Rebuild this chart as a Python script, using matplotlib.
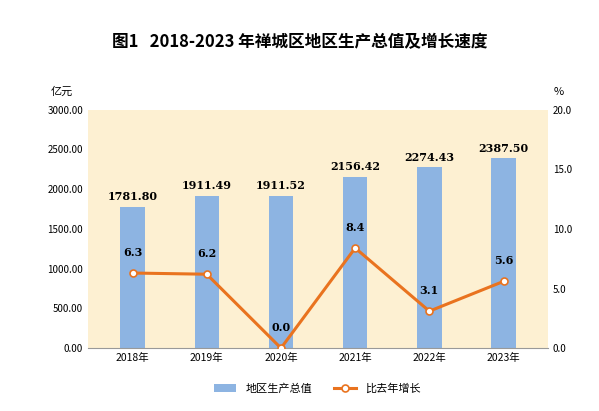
import matplotlib
matplotlib.use("Agg")
import matplotlib.pyplot as plt
plt.rcParams['font.family'] = ['Noto Sans CJK SC', 'DejaVu Sans']

years = ['2018年', '2019年', '2020年', '2021年', '2022年', '2023年']
gdp = [1781.80, 1911.49, 1911.52, 2156.42, 2274.43, 2387.50]
growth = [6.3, 6.2, 0.0, 8.4, 3.1, 5.6]

fig = plt.figure(figsize=(5.99, 4.11), dpi=100)
ax = fig.add_axes([0.147, 0.153, 0.768, 0.58])
ax.set_facecolor('#FDF0D2')
x = range(len(years))
ax.bar(x, gdp, width=0.33, color='#8DB4E2', label='地区生产总值', zorder=2)
for i, v in enumerate(gdp):
    ax.text(i, v + 60, f'{v:.2f}', ha='center', va='bottom', fontsize=8, fontweight='bold', family='DejaVu Serif')
ax.set_ylim(0, 3000)
ax.set_yticks(range(0, 3001, 500))
ax.set_yticklabels([f'{v:.2f}' for v in range(0, 3001, 500)], fontsize=7)
ax.set_xlim(-0.6, 5.6)
ax.set_xticks(list(x))
ax.set_xticklabels(years, fontsize=7.5)
for s in ['top', 'right', 'left']:
    ax.spines[s].set_visible(False)
ax.spines['bottom'].set_color('#999999')
ax.tick_params(length=0)

ax2 = ax.twinx()
ax2.plot(x, growth, color='#E9731F', lw=2.2, marker='o', ms=5, mfc='white', mec='#E9731F', mew=1.2, label='比去年增长', zorder=3)
for i, v in enumerate(growth):
    ax2.text(i, v + 1.3, f'{v:.1f}', ha='center', va='bottom', fontsize=8, fontweight='bold', family='DejaVu Serif')
ax2.set_ylim(0, 20)
ax2.set_yticks(range(0, 21, 5))
ax2.set_yticklabels([f'{v:.1f}' for v in range(0, 21, 5)], fontsize=7)
for s in ['top', 'right', 'left', 'bottom']:
    ax2.spines[s].set_visible(False)
ax2.tick_params(length=0)

fig.text(0.5, 0.885, '图1   2018-2023 年禅城区地区生产总值及增长速度', ha='center', fontsize=12, fontweight='bold')
fig.text(0.085, 0.77, '亿元', fontsize=8)
fig.text(0.925, 0.77, '%', fontsize=8)
h1, l1 = ax.get_legend_handles_labels()
h2, l2 = ax2.get_legend_handles_labels()
fig.legend(h1 + h2, l1 + l2, loc='center', bbox_to_anchor=(0.53, 0.055), ncol=2, frameon=False, fontsize=8)
fig.savefig('out.png', dpi=100)
